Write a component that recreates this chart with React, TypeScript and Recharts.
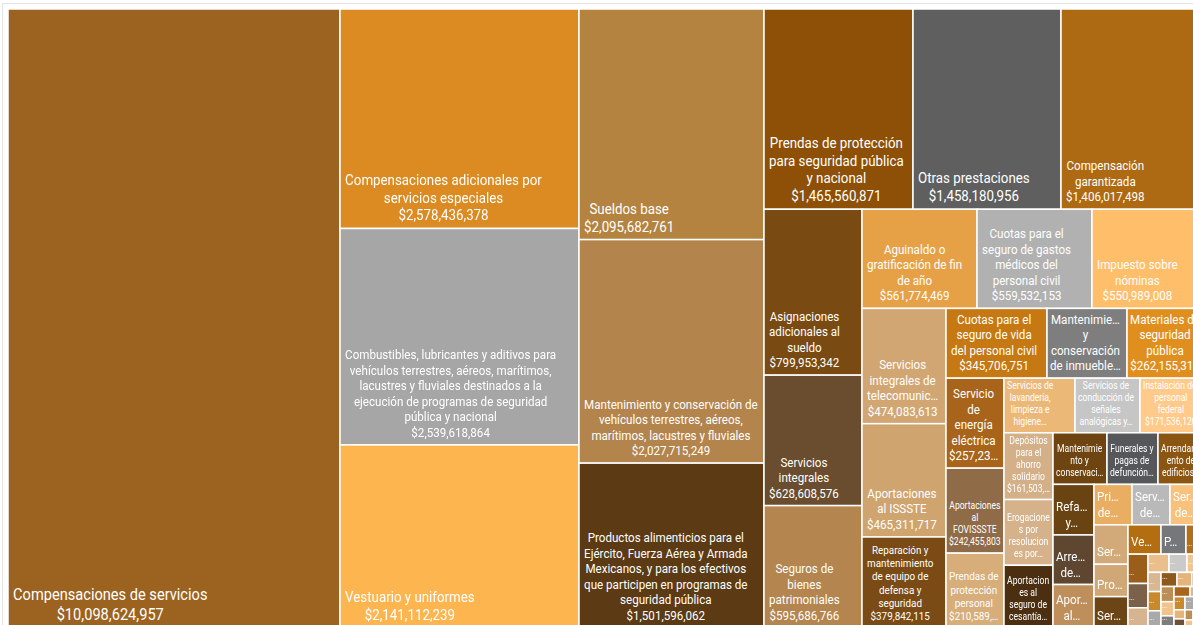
import React from 'react';
import { Treemap } from 'recharts';

const names: string[] = [
  'Compensaciones de servicios',
  'Compensaciones adicionales por servicios especiales',
  'Combustibles, lubricantes y aditivos para vehículos terrestres, aéreos, marítimos, lacustres y fluviales destinados a la ejecución de programas de seguridad pública y nacional',
  'Vestuario y uniformes',
  'Sueldos base',
  'Mantenimiento y conservación de vehículos terrestres, aéreos, marítimos, lacustres y fluviales',
  'Productos alimenticios para el Ejército, Fuerza Aérea y Armada Mexicanos, y para los efectivos que participen en programas de seguridad pública',
  'Prendas de protección para seguridad pública y nacional',
  'Otras prestaciones',
  'Compensación garantizada',
  'Asignaciones adicionales al sueldo',
  'Servicios integrales',
  'Seguros de bienes patrimoniales',
  'Aguinaldo o gratificación de fin de año',
  'Cuotas para el seguro de gastos médicos del personal civil',
  'Impuesto sobre nóminas',
  'Servicios integrales de telecomunicación',
  'Aportaciones al ISSSTE',
  'Reparación y mantenimiento de equipo de defensa y seguridad',
  'Cuotas para el seguro de vida del personal civil',
  'Mantenimiento y conservación de inmuebles para la prestación de servicios públicos',
  'Materiales de seguridad pública',
  'Servicio de energía eléctrica',
  'Aportaciones al FOVISSSTE',
  'Prendas de protección personal',
  'Servicios de lavandería, limpieza e higiene',
  'Servicios de conducción de señales analógicas y digitales',
  'Instalación del personal federal',
  'Depósitos para el ahorro solidario',
  'Erogaciones por resoluciones por autoridad competente',
  'Aportaciones al seguro de cesantía en edad avanzada y vejez',
  'Mantenimiento y conservación de maquinaria y equipo',
  'Funerales y pagas de defunción',
  'Arrendamiento de edificios',
  'Refacciones y accesorios menores de equipo de defensa y seguridad',
  'Arrendamiento de vehículos terrestres, aéreos, marítimos, lacustres y fluviales',
  'Aportaciones al sistema de ahorro para el retiro',
  'Primas de vacaciones, dominical y gratificación de fin de año',
  'Servicios de vigilancia',
  'Servicios de jardinería y fumigación',
  'Servicios postales y telegráficos',
  'Productos químicos básicos',
  'Servicio de agua',
  'Vehículos y equipo terrestre',
  'Pasajes aéreos',
  'Material eléctrico y electrónico',
  'Materiales de administración',
  'Herramientas menores',
  'Servicios de capacitación',
  'Otros materiales y artículos de construcción',
  'Viáticos nacionales',
  'Materiales y útiles de oficina',
  'Material de limpieza',
  'Productos textiles',
  'Medicinas y productos farmacéuticos',
  'Impresiones y publicaciones oficiales',
  'Gas',
  'Servicios de telefonía celular',
  'Mobiliario',
  'Equipo de cómputo',
  'Refacciones y accesorios menores de mobiliario',
  'Servicio postal',
  'Fletes y maniobras',
  'Pasajes terrestres',
  'Blancos y otros productos textiles',
  'Artículos deportivos',
  'Cemento y productos de concreto',
  'Madera y productos de madera',
  'Otros arrendamientos',
  'Vidrio y productos de vidrio',
  'Congresos y convenciones',
  'Penas, multas, accesorios y actualizaciones',
];

const amounts: number[] = [
  10098624957, 2578436378, 2539618864, 2141112239, 2095682761, 2027715249, 1501596062,
  1465560871, 1458180956, 1406017498, 799953342, 628608576, 595686766, 561774469,
  559532153, 550989008, 474083613, 465311717, 379842115, 345706751, 275118403,
  262155312, 257234518, 242455803, 210589749, 189207553, 173981406, 171536120,
  161503872, 158214096, 152087331, 135960214, 128041587, 122736905, 101228460,
  98975132, 91130884, 76034519, 75112806, 70893277, 65207431, 54118096, 52960385,
  47085612, 35540297, 29487150, 28560733, 23614208, 19702566, 18591034, 16024877,
  15011936, 12487205, 12013540, 11498376, 11020918, 10512044, 10006137, 9487312,
  9012550, 8496127, 8003815, 7488219, 7010364, 6502781, 5998420, 5012367, 4497038,
  4006215, 3498876, 3004120, 2496531,
];

const cellColors: string[] = [
  '#9C6320', '#DB8B21', '#A6A6A6', '#FDB54F', '#B4833F', '#B3844B', '#5B3A14',
  '#8D5006', '#5F5F5F', '#AD6A13', '#7A4A13', '#6A4C2E', '#B4854E', '#E6A146',
  '#B1B1B1', '#FEBE6A', '#D2A672', '#CFA46F', '#7A4B14', '#C67812', '#7E7E7E',
  '#E08F1E', '#A8641A', '#8F6B48', '#D7AD79', '#ECB878', '#C6C6C6', '#FFCA8A',
  '#D4B089', '#D6B28B', '#4B2F10', '#6E4410', '#55575B', '#8B5512', '#6A4312',
  '#5E4630', '#BE8F5B', '#E9AE62', '#B9B9B9', '#F8C27D', '#D2AA7A', '#D0A877',
  '#6B4515', '#B36E12', '#76777B', '#B36F18', '#9A5E1A', '#7B6149', '#D6B48F',
  '#EABF8B', '#CACACA', '#F4C68E', '#D8B893', '#C98A2E', '#A9A9A9', '#8E5A1C',
  '#E4B47A', '#6F5037', '#BC8D55', '#F2C48C', '#7D7D7D', '#A8651B', '#D8B893',
  '#C98A2E', '#A9A9A9', '#8E5A1C', '#E4B47A', '#6F5037', '#BC8D55', '#F2C48C',
  '#7D7D7D', '#A8651B',
];

const data = names.map((name, i) => ({ name, size: amounts[i], color: cellColors[i] }));

const TM_W = 1197;
const TM_H = 612;
const SHOW_H = 619;
const SY = TM_H / SHOW_H;
const SX = 0.86;
const LH = 1.15;

let ctx: any = null;
function tw(s: string, fs: number): number {
  if (!ctx) ctx = document.createElement('canvas').getContext('2d');
  ctx.font = `${fs}px Roboto`;
  return ctx.measureText(s).width * SX;
}

function ellipsize(s: string, fs: number, aw: number): string {
  let t = s;
  while (t.length > 0 && tw(t + '…', fs) > aw) t = t.slice(0, -1);
  return t + '…';
}

function finalEllipsis(s: string, fs: number, aw: number): string {
  if (s.endsWith('…')) return s;
  let t = s;
  while (t.length > 0 && tw(t + '…', fs) > aw) t = t.slice(0, -1);
  return t.trimEnd() + '…';
}

function wrapWords(text: string, fs: number, aw: number, mode: 'strict' | 'break' | 'trunc'): string[] | null {
  const words = text.split(' ');
  const lines: string[] = [];
  let cur = '';
  for (const w of words) {
    const cand = cur ? cur + ' ' + w : w;
    if (tw(cand, fs) <= aw) { cur = cand; continue; }
    if (cur) lines.push(cur);
    cur = '';
    if (tw(w, fs) <= aw) { cur = w; continue; }
    if (mode === 'strict') return null;
    if (mode === 'break') {
      let piece = '';
      for (const ch of Array.from(w)) {
        if (!piece || tw(piece + ch, fs) <= aw) piece += ch;
        else { lines.push(piece); piece = ch; }
      }
      cur = piece;
    } else {
      lines.push(ellipsize(w, fs, aw));
    }
  }
  if (cur) lines.push(cur);
  return lines;
}

type Label = { fs: number; lines: string[]; pad: number };

function truncLabel(name: string, valueStr: string, w: number, h: number, pad: number, small: boolean): Label {
  const fs = 13.5;
  const aw = w - 2 * pad;
  const lh = fs * LH;
  const maxLines = Math.max(1, Math.floor((h - (small ? 8 : 5)) / lh));
  const vl = tw(valueStr, fs) <= aw ? valueStr : ellipsize(valueStr, fs, aw);
  let lines = [...(wrapWords(name, fs, aw, 'trunc') || []), vl];
  if (lines.length > maxLines) {
    lines = lines.slice(0, maxLines);
    lines[maxLines - 1] = finalEllipsis(lines[maxLines - 1], fs, aw);
  }
  return { fs, lines, pad };
}

function layoutLabel(name: string, valueStr: string, w: number, h: number): Label | null {
  const pad = w > 80 ? 5 : 3;
  const aw = w - 2 * pad;
  const m = Math.min(w, h);
  if (m < 22) {
    if (w >= 10 && h >= 12) return { fs: 9, lines: ['…'], pad: 1 };
    return null;
  }
  if (m < 42) return truncLabel(name, valueStr, w, h, pad, true);
  let base = m >= 300 ? 17 : m >= 145 ? 15.5 : 13.5;
  if (name.length > 60) base = 13.5;
  for (let fs = base; fs >= 11; fs -= fs > 13.5 ? 0.5 : 1) {
    const lh = fs * LH;
    const nl = wrapWords(name, fs, aw, 'strict');
    if (!nl) continue;
    const vl = tw(valueStr, fs) <= aw ? valueStr : ellipsize(valueStr, fs, aw);
    const lines = [...nl, vl];
    if (lines.length * lh <= h - 4) return { fs, lines, pad };
  }
  if (w >= 75) return truncLabel(name, valueStr, w, h, pad, false);
  const fs = 10;
  const lh = fs * 1.2;
  const maxLines = Math.max(1, Math.floor((h - 6) / lh));
  let lines = [...(wrapWords(name, fs, aw, 'break') || []), ...(wrapWords(valueStr, fs, aw, 'break') || [])];
  if (lines.length > maxLines) {
    lines = lines.slice(0, maxLines);
    lines[maxLines - 1] = finalEllipsis(lines[maxLines - 1], fs, aw);
  }
  return { fs, lines, pad };
}

const fmt = (v: number) => '$' + v.toLocaleString('en-US');

const renderCell = (props: any) => {
  const { x, y, width, height, depth, name, size, color, index } = props;
  if (depth !== 1) return null;
  const label = layoutLabel(String(name), fmt(size), width, height);
  let texts: React.ReactNode = null;
  if (label) {
    const lh = label.fs * (label.fs <= 10 ? 1.2 : LH) * SY;
    const widths = label.lines.map((l) => tw(l, label.fs));
    const bw = Math.min(Math.max(...widths), width - 2 * label.pad);
    const cx = x + label.pad + bw / 2;
    const n = label.lines.length;
    const lastBase = y + height - 8 * SY;
    texts = label.lines.map((l, i) => (
      <text
        key={i}
        x={0}
        y={0}
        transform={`translate(${cx},${lastBase - (n - 1 - i) * lh}) scale(${SX},${SY})`}
        textAnchor="middle"
        fill="#ffffff"
        fontFamily="Roboto, 'Noto Sans', sans-serif"
        fontSize={label.fs}
      >
        {l}
      </text>
    ));
  }
  return (
    <g key={`cell-${index}`}>
      <rect x={x} y={y} width={width} height={height} fill={color} stroke="#ffffff" strokeWidth={1.5} />
      {texts}
    </g>
  );
};

export default function App() {
  return (
    <div style={{ position: 'absolute', left: 0, top: 0, width: 1193, height: 625, overflow: 'hidden', background: '#ffffff' }}>
      <div style={{ position: 'absolute', left: 2, top: 3, width: 1300, height: 700, border: '1px solid #e4e4e4', boxSizing: 'border-box' }} />
      <div style={{ position: 'absolute', left: 8, top: 9, transform: `scale(1, ${SHOW_H / TM_H})`, transformOrigin: '0 0' }}>
        <Treemap
          width={TM_W}
          height={TM_H}
          data={data}
          dataKey="size"
          nameKey="name"
          aspectRatio={0.9151}
          isAnimationActive={false}
          content={renderCell}
        />
      </div>
    </div>
  );
}
